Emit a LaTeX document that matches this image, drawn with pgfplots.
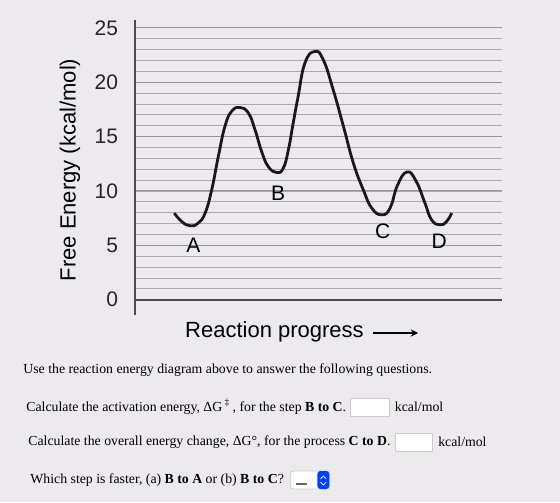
\documentclass[border=0pt]{standalone}
\usepackage{pgfplots}
\pgfplotsset{compat=1.18}
\usepackage{fontspec}
\setmainfont{Liberation Serif}
\newfontfamily\arial{Liberation Sans}
\definecolor{bg}{RGB}{236,234,236}
\definecolor{gridc}{RGB}{150,150,150}
\begin{document}
\begin{tikzpicture}
\fill[bg] (0,0) rectangle (280pt,251pt);
\begin{axis}[
  at={(67.5pt,93.5pt)}, anchor=south west,
  scale only axis, width=183.5pt, height=147.4pt,
  xmin=0, xmax=100, ymin=-1.4, ymax=25.7,
  axis x line=none, axis y line*=left,
  xtick=\empty,
  ytick={0,5,...,25}, minor ytick={0,1,...,25},
  ymajorgrids, yminorgrids,
  major grid style={gridc, line width=0.5pt},
  minor grid style={gridc!80, line width=0.45pt},
  y axis line style={black!70, line width=0.8pt, -},
  major tick length=0pt, minor tick length=0pt,
  /pgf/number format/assume math mode=true,
  yticklabel style={font=\arial\fontsize{10.5}{12}\selectfont, xshift=-5pt, text=black!85},
  clip=false,
]
\draw[black!70, line width=0.8pt] (axis cs:0,0) -- (axis cs:100,0);
\addplot[smooth, tension=0.8, line width=1.4pt, black!90] coordinates {
(10.7,7.97) (12.7,7.20) (15.0,6.80) (17.2,7.05) (19.1,7.97) (20.9,10.11)
(22.7,13.17) (24.5,15.93) (26.3,17.31) (28.6,17.67) (30.9,17.16) (32.7,15.63)
(34.5,13.63) (36.3,12.25) (38.6,11.70) (40.4,12.10) (41.8,13.79) (43.1,16.24)
(44.4,18.6) (46.3,21.76) (49.0,22.82) (51.3,22.06) (54.0,19.30) (56.8,15.93)
(59.5,12.56) (62.2,10.11) (64.5,8.43) (67.2,7.81) (69.5,8.43) (71.5,10.5)
(74.1,11.75) (76.6,10.9) (79.0,8.89) (80.8,7.35) (83.1,6.89) (84.9,7.20) (86.3,7.97)
};
\node[font=\arial\fontsize{10.5}{12}\selectfont] at (axis cs:15.9,5.05) {A};
\node[font=\arial\fontsize{10.5}{12}\selectfont] at (axis cs:39.0,9.8) {B};
\node[font=\arial\fontsize{10.5}{12}\selectfont] at (axis cs:67.5,6.3) {C};
\node[font=\arial\fontsize{10.5}{12}\selectfont] at (axis cs:82.9,5.4) {D};
\end{axis}
\node[rotate=90, font=\arial\fontsize{11}{13}\selectfont] at (35pt,166pt) {Free Energy (kcal/mol)};
\node[font=\arial\fontsize{11}{13}\selectfont] at (137.25pt,85pt) {Reaction progress};
\draw[-stealth, line width=0.6pt] (186.5pt,84.5pt) -- (209pt,84.5pt);
\begin{scope}[font=\fontsize{6.9}{8}\selectfont]
\node[anchor=west, inner sep=0pt] at (11.5pt,66pt) {Use the reaction energy diagram above to answer the following questions.};
\node[anchor=west, inner sep=0pt] (l2) at (13pt,47.5pt) {Calculate the activation energy, ΔG\,\textsuperscript{‡}\,, for the step \textbf{B to C}.};
\filldraw[fill=white, draw=black!20, line width=0.4pt] ([xshift=2pt,yshift=-4.5pt]l2.east) rectangle ++(19.5pt,9pt);
\node[anchor=west, inner sep=0pt] at ([xshift=24pt]l2.east) {kcal/mol};
\node[anchor=west, inner sep=0pt] (l3) at (14pt,30pt) {Calculate the overall energy change, ΔG°, for the process \textbf{C to D}.};
\filldraw[fill=white, draw=black!20, line width=0.4pt] ([xshift=2.5pt,yshift=-4.5pt]l3.east) rectangle ++(18.5pt,9pt);
\node[anchor=west, inner sep=0pt] at ([xshift=23.5pt]l3.east) {kcal/mol};
\node[anchor=west, inner sep=0pt] (l4) at (15pt,11pt) {Which step is faster, (a) \textbf{B to A} or (b) \textbf{B to C}?};
\begin{scope}[shift={([xshift=3pt]l4.east)}]
\filldraw[fill=white, draw=black!20, line width=0.4pt, rounded corners=1.5pt] (0pt,-4.5pt) rectangle (19.5pt,4.5pt);
\draw[black!60, line width=0.6pt] (3pt,-2pt) -- (8.5pt,-2pt);
\fill[blue!75!cyan, rounded corners=1.5pt] (13.5pt,-4.5pt) rectangle (19.5pt,4.5pt);
\draw[white, line width=0.4pt] (15.1pt,0.6pt) -- (16.5pt,2pt) -- (17.9pt,0.6pt);
\draw[white, line width=0.4pt] (15.1pt,-1.1pt) -- (16.5pt,-2.5pt) -- (17.9pt,-1.1pt);
\end{scope}
\end{scope}
\useasboundingbox (0,0) rectangle (280pt,251pt);
\end{tikzpicture}
\end{document}
